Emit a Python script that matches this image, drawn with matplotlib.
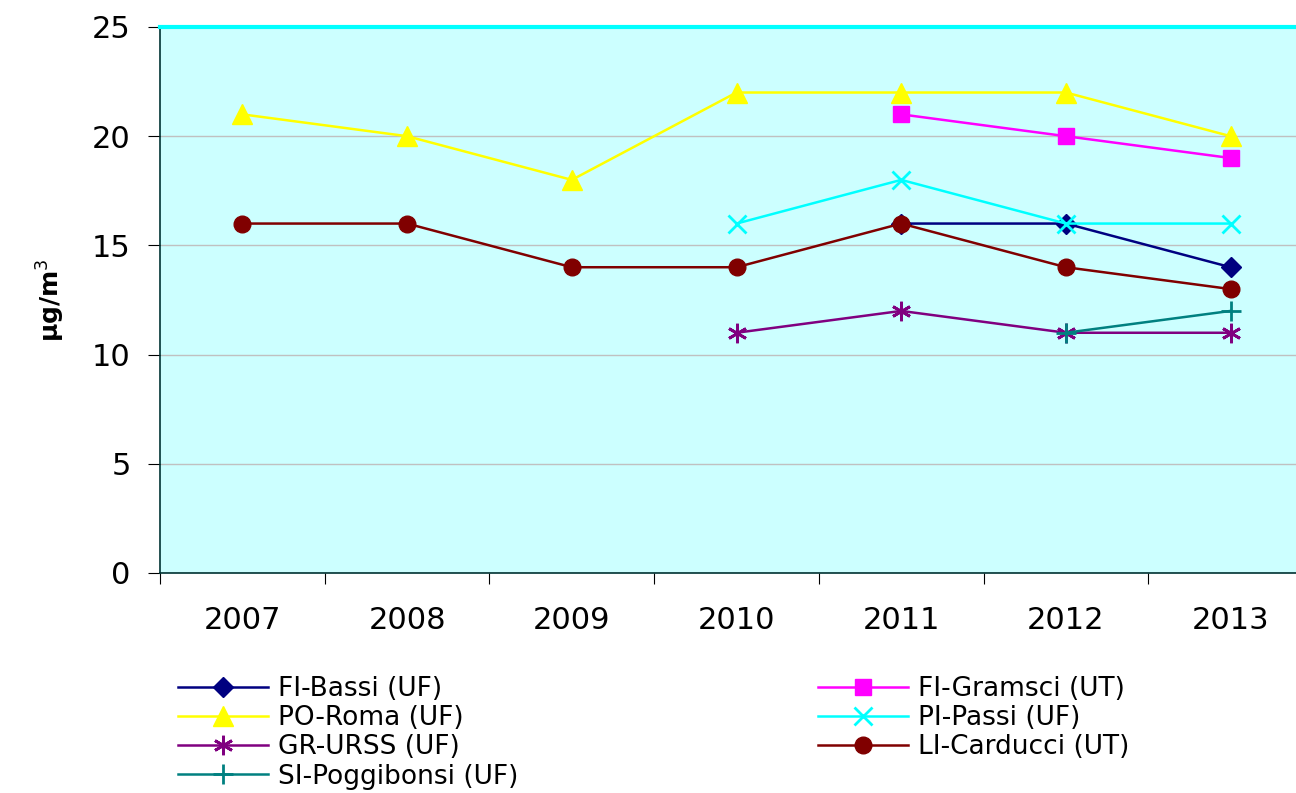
import matplotlib
matplotlib.use("Agg")
import matplotlib.pyplot as plt
import numpy as np

plt.rcParams['font.family'] = ['DejaVu Sans']

years = ["2007", "2008", "2009", "2010", "2011", "2012", "2013"]
nan = np.nan
fi_bassi = [nan, nan, nan, nan, 16, 16, 14]
fi_gramsci = [nan, nan, nan, nan, 21, 20, 19]
po_roma = [21, 20, 18, 22, 22, 22, 20]
pi_passi = [nan, nan, nan, 16, 18, 16, 16]
gr_urss = [nan, nan, nan, 11, 12, 11, 11]
li_carducci = [16, 16, 14, 14, 16, 14, 13]
si_poggibonsi = [nan, nan, nan, nan, nan, 11, 12]

series = [
    ("FI-Bassi (UF)", fi_bassi, "#000080", "D", 10),
    ("PO-Roma (UF)", po_roma, "#FFFF00", "^", 14),
    ("GR-URSS (UF)", gr_urss, "#800080", (6, 2, 0), 14),
    ("SI-Poggibonsi (UF)", si_poggibonsi, "#008080", "+", 14),
    ("FI-Gramsci (UT)", fi_gramsci, "#FF00FF", "s", 12),
    ("PI-Passi (UF)", pi_passi, "#00FFFF", "x", 13),
    ("LI-Carducci (UT)", li_carducci, "#800000", "o", 12),
]

fig = plt.figure(figsize=(12.96, 7.93), dpi=100)
ax = fig.add_axes([160/1296, 1-573/793, 1153/1296, (573-27)/793])
ax.set_facecolor("#CCFFFF")
x = np.arange(len(years))
handles = []
for name, vals, col, mk, ms in series:
    h, = ax.plot(x, vals, color=col, marker=mk, markersize=ms, lw=1.8,
                 markeredgewidth=2 if mk in ("+", "x") or isinstance(mk, tuple) else 1,
                 markeredgecolor=col, label=name, zorder=3)
    handles.append(h)

ax.set_xlim(-0.5, 6.5)
ax.set_ylim(0, 25)
ax.set_yticks([0, 5, 10, 15, 20, 25])
ax.yaxis.grid(True, color="#C0C0C0", lw=1)
ax.set_axisbelow(True)
ax.set_xticks(np.arange(-0.5, 7, 1))
ax.set_xticklabels([])
ax.set_xticks(x, minor=True)
ax.set_xticklabels(years, minor=True, fontsize=22)
ax.tick_params(axis='x', which='minor', length=0, pad=24)
ax.tick_params(axis='x', which='major', length=8, direction='out')
ax.tick_params(axis='y', length=9, labelsize=22, pad=12)
for s in ["left", "bottom"]:
    ax.spines[s].set_color("#003333")
    ax.spines[s].set_linewidth(1.2)
ax.spines["top"].set_color("#00FFFF")
ax.spines["top"].set_linewidth(3)
ax.spines["right"].set_color("#00FFFF")
ax.set_ylabel("µg/m$^3$", fontsize=18, fontweight="bold", labelpad=18)

kw = dict(frameon=False, fontsize=19, handlelength=3.4, handletextpad=0.4,
          labelspacing=0.12, borderpad=0, borderaxespad=0)
leg1 = fig.legend(handles=handles[:4], loc="upper left",
                  bbox_to_anchor=(178/1296, 1-676/793), **kw)
leg2 = fig.legend(handles=handles[4:], loc="upper left",
                  bbox_to_anchor=(818/1296, 1-676/793), **kw)

fig.savefig("out.png", dpi=100)
